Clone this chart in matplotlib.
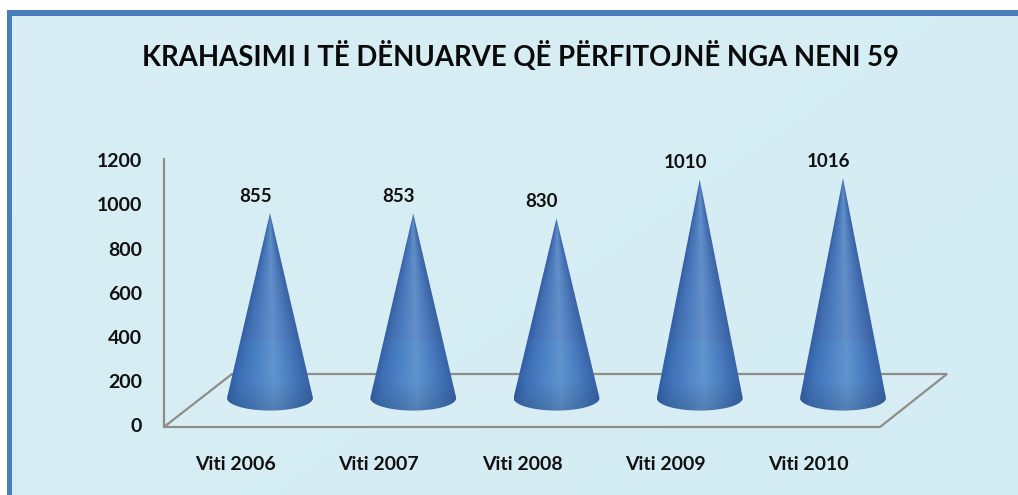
import numpy as np
import matplotlib
matplotlib.use("Agg")
import matplotlib.pyplot as plt
from matplotlib.patches import Polygon, Rectangle, PathPatch
from matplotlib.path import Path
from matplotlib.lines import Line2D
from matplotlib.transforms import Affine2D

title = "KRAHASIMI I TË DËNUARVE QË PËRFITOJNË NGA NENI 59"
categories = ["Viti 2006", "Viti 2007", "Viti 2008", "Viti 2009", "Viti 2010"]
values = [855, 853, 830, 1010, 1016]
y_ticks = [0, 200, 400, 600, 800, 1000, 1200]

W, H = 1018, 495
plt.rcParams['font.family'] = ['Lato', 'DejaVu Sans']
fig = plt.figure(figsize=(W / 100, H / 100), dpi=100, facecolor='white')
px = Affine2D().scale(1, -1).translate(0, H)  # image pixel coords -> display

# panel background
bg = fig.add_axes([0, 0, 1, 1], zorder=0)
bg.set_axis_off()
gy, gx = np.mgrid[0:1:60j, 0:1:120j]
c0 = np.array([0.85, 0.935, 0.96]); c1 = np.array([0.83, 0.925, 0.955])
t = (gx * 0.6 + gy * 0.4)[..., None]
bg.imshow(c0 * (1 - t) + c1 * t, extent=(7, W, H, 10), aspect='auto', interpolation='bilinear')
bg.set_xlim(0, W); bg.set_ylim(H, 0)
bg.add_patch(Rectangle((7, 10), W - 7, 6, color='#4a7ebb', lw=0))
bg.add_patch(Rectangle((7, 10), 5, H - 10, color='#4a7ebb', lw=0))
bg.text(520, 56, title, ha='center', va='center', fontsize=19.8, fontweight='bold', color='#0a0a0a')

# chart axes
L, R, T, B = 164, 947, 160, 425.5
ax = fig.add_axes([L / W, 1 - B / H, (R - L) / W, (B - T) / H], zorder=2)
ax.patch.set_alpha(0)
step = 143.25
x0 = 270
xlim = ((L - x0) / step, (R - x0) / step)
ylim = (0, 1200)
unit = 1200 / (B - T)

# floor
floor_pts = [(164, 427), (880, 427), (947, 374), (232, 374)]
ax.add_patch(Polygon(floor_pts, closed=True, transform=px, fill=True, fc=(1, 1, 1, 0.08),
                     ec='#8e8e88', lw=1.6, zorder=1, clip_on=False))

# cones
base_y = 124.0
hw = 43 / step
minor = 12.5 * unit
k = 0.978
cmap_x = np.array([-1, -0.75, -0.3, 0.1, 0.5, 0.85, 1])
cols = np.array([[0.20, 0.38, 0.66], [0.25, 0.45, 0.72], [0.31, 0.52, 0.78],
                 [0.38, 0.58, 0.81], [0.30, 0.50, 0.76], [0.24, 0.42, 0.69], [0.22, 0.39, 0.65]])
for i, v in enumerate(values):
    tip = base_y + v * k
    ys = np.linspace(base_y - minor, tip, 220)
    xs = np.linspace(-hw, hw, 120)
    gxx, gyy = np.meshgrid(xs, ys)
    halfw = np.maximum(hw * (tip - gyy) / (tip - base_y), 1e-4)
    u = np.clip(gxx / halfw, -1, 1)
    img = np.stack([np.interp(u, cmap_x, cols[:, c]) for c in range(3)], axis=-1)
    band = (gyy > (B - 340) * unit)[..., None]
    img = np.where(band, img * 0.97 + np.array([0.015, 0.0, 0.0]), img)
    low = np.clip((gyy - (base_y - minor)) / (30 * unit), 0, 1)[..., None]
    img = img * (0.86 + 0.14 * low)
    im = ax.imshow(np.clip(img, 0, 1), origin='lower', aspect='auto', zorder=3,
                   extent=(i - hw, i + hw, base_y - minor, tip), interpolation='bilinear')
    th = np.linspace(np.pi, 2 * np.pi, 40)
    verts = [(i, tip)] + [(i + hw * np.cos(a), base_y + minor * np.sin(a)) for a in th] + [(i, tip)]
    clip = PathPatch(Path(verts), transform=ax.transData, fc='none', ec='none')
    ax.add_patch(clip)
    im.set_clip_path(clip)
    ax.annotate(str(v), (i, tip), xytext=(-10.5, 12), textcoords='offset points',
                ha='center', va='center', fontsize=13.5, fontweight='bold', color='#111111',
                annotation_clip=False, zorder=5)

ax.set_xlim(*xlim)
ax.set_ylim(*ylim)
ax.set_yticks(y_ticks)
ax.set_yticklabels([str(t) for t in y_ticks], fontsize=14, fontweight='bold', color='#111111')
ax.set_xticks([i - 0.24 for i in range(len(categories))])
ax.set_xticklabels(categories, fontsize=14, fontweight='bold', color='#111111')
ax.tick_params(axis='y', length=0, pad=16)
ax.tick_params(axis='x', length=0, pad=22)
for s in ('top', 'right', 'bottom', 'left'):
    ax.spines[s].set_visible(False)
ax.add_line(Line2D([164, 164], [159, 427], transform=px, color='#8e8e88', lw=1.6, clip_on=False, zorder=1))

fig.savefig('out.png', dpi=100)
